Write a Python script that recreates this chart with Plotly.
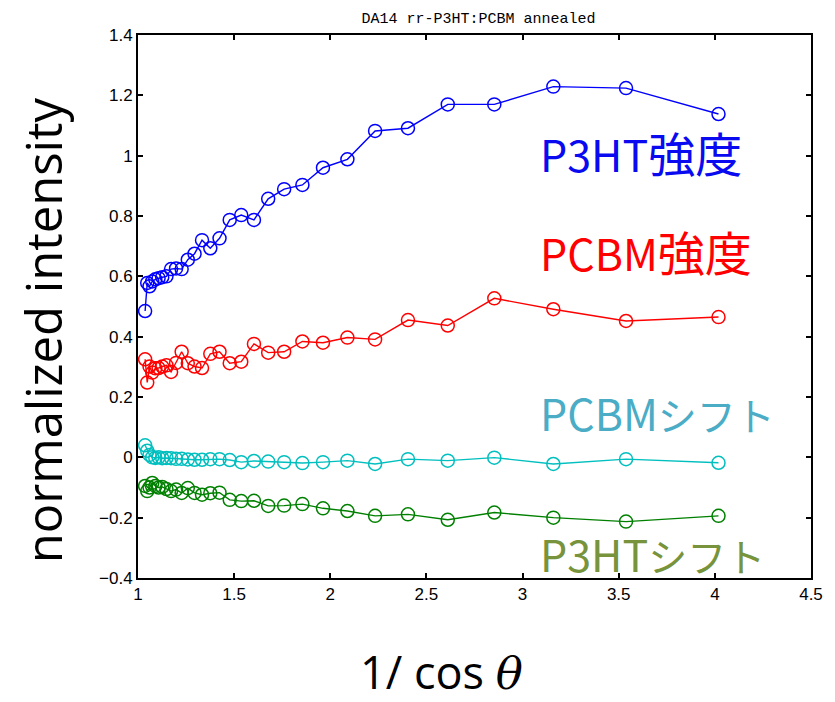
import plotly.graph_objects as go

# 1/cos(theta) sample positions
inv_cos = [1.037, 1.048, 1.060, 1.074, 1.090, 1.107, 1.126, 1.148, 1.172, 1.198,
           1.227, 1.259, 1.294, 1.333, 1.376, 1.424, 1.477, 1.537, 1.603, 1.677,
           1.760, 1.855, 1.962, 2.089, 2.233, 2.404, 2.611, 2.853, 3.160, 3.538,
           4.019]

p3ht_intensity = [0.485, 0.578, 0.567, 0.583, 0.590, 0.594, 0.597, 0.600, 0.624, 0.626,
                  0.624, 0.655, 0.675, 0.720, 0.693, 0.726, 0.787, 0.803, 0.787, 0.857,
                  0.889, 0.903, 0.960, 0.988, 1.082, 1.091, 1.170, 1.170, 1.229, 1.224,
                  1.138]

pcbm_intensity = [0.325, 0.248, 0.301, 0.281, 0.295, 0.296, 0.301, 0.305, 0.283, 0.313,
                  0.350, 0.312, 0.301, 0.296, 0.343, 0.350, 0.312, 0.317, 0.376, 0.347,
                  0.350, 0.384, 0.380, 0.397, 0.391, 0.455, 0.437, 0.527, 0.491, 0.452,
                  0.465]

pcbm_shift = [0.040, 0.022, 0.008, 0.000, -0.002, 0.000, -0.003, -0.002, -0.003, -0.005,
              -0.005, -0.007, -0.008, -0.008, -0.006, -0.006, -0.009, -0.016, -0.012, -0.014,
              -0.016, -0.019, -0.016, -0.011, -0.022, -0.006, -0.011, -0.001, -0.022, -0.006,
              -0.018]

p3ht_shift = [-0.095, -0.112, -0.100, -0.085, -0.095, -0.100, -0.098, -0.105, -0.112, -0.107,
              -0.118, -0.102, -0.118, -0.124, -0.119, -0.117, -0.141, -0.145, -0.144, -0.161,
              -0.160, -0.155, -0.169, -0.178, -0.194, -0.189, -0.207, -0.183, -0.200, -0.213,
              -0.194]

x_ticks = [1, 1.5, 2, 2.5, 3, 3.5, 4, 4.5]
y_ticks = [-0.4, -0.2, 0, 0.2, 0.4, 0.6, 0.8, 1, 1.2, 1.4]

# (material, quantity, values, line colour, label colour, label height in plot fraction)
series = [
    ("P3HT", "強度", p3ht_intensity, "#0000ff", "#0a0af0", 0.785),
    ("PCBM", "強度", pcbm_intensity, "#ff0000", "#ff0000", 0.604),
    ("PCBM", "シフト", pcbm_shift, "#00bfbf", "#4bacc6", 0.306),
    ("P3HT", "シフト", p3ht_shift, "#008000", "#77933c", 0.046),
]
kana_size = {"強度": 47, "シフト": 39}

fig = go.Figure()
for mat, qty, vals, col, _, _ in series:
    fig.add_trace(go.Scatter(
        x=inv_cos, y=vals, mode="lines+markers", name=mat + qty,
        line=dict(color=col, width=1.4),
        marker=dict(symbol="circle-open", size=13, color=col, line=dict(width=1.5)),
    ))

for mat, qty, _, _, tcol, ypos in series:
    fig.add_annotation(
        text=f"{mat}<span style='font-size:{kana_size[qty]}px'>{qty}</span>",
        xref="paper", yref="paper", x=0.595, y=ypos,
        xanchor="left", yanchor="middle", showarrow=False,
        font=dict(family="Noto Sans CJK JP", size=43, color=tcol),
    )

# axis titles
fig.add_annotation(
    text="1/ cos <i><span style='font-family:DejaVu Serif'>θ</span></i>",
    xref="paper", yref="paper", x=0.451, y=-0.172,
    xanchor="center", yanchor="middle", showarrow=False,
    font=dict(family="Open Sans", size=45, color="black"),
)
fig.add_annotation(
    text="normalized intensity", xref="paper", yref="paper", x=-0.142, y=0.457,
    xanchor="center", yanchor="middle", textangle=-90, showarrow=False,
    font=dict(family="Open Sans", size=49, color="black"),
)

axis_font = dict(family="Liberation Sans Narrow, Arial Narrow, sans-serif", size=17, color="black")

fig.update_layout(
    width=835, height=702,
    margin=dict(l=138, r=13, t=35, b=124),
    paper_bgcolor="white", plot_bgcolor="white",
    showlegend=False,
    title=dict(text="DA14 rr-P3HT:PCBM annealed", x=0.573, xanchor="center",
               y=0.975, yanchor="middle",
               font=dict(family="Liberation Mono", size=15, color="black")),
    xaxis=dict(range=[1, 4.5], tickvals=x_ticks, ticktext=[f"{v:g}" for v in x_ticks],
               showgrid=False, zeroline=False, showline=True, linecolor="black",
               linewidth=2, mirror="ticks", ticks="inside", ticklen=5, tickwidth=1.5,
               tickcolor="black", tickfont=axis_font),
    yaxis=dict(range=[-0.4, 1.4], tickvals=y_ticks,
               ticktext=[f"{v:g}".replace("-", "\u2212") for v in y_ticks],
               showgrid=False, zeroline=False, showline=True, linecolor="black",
               linewidth=2, mirror="ticks", ticks="inside", ticklen=5, tickwidth=1.5,
               tickcolor="black", tickfont=axis_font),
)

fig.write_html("out.html")
